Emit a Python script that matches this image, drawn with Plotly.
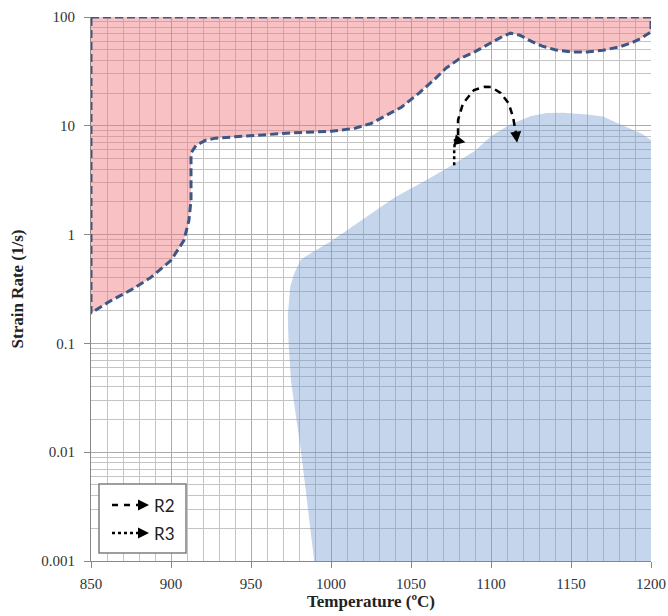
import math
import plotly.graph_objects as go

# ---------------- data ----------------
temp_ticks = [850, 900, 950, 1000, 1050, 1100, 1150, 1200]
temp_tick_labels = ["850", "900", "950", "1000", "1050", "1100", "1150", "1200"]
rate_ticks = [0.001, 0.01, 0.1, 1, 10, 100]
rate_tick_labels = ["0.001", "0.01", "0.1", "1", "10", "100"]

# lower boundary of the unstable (red) region, left to right
unstable_edge_T = [850, 862, 875, 887, 900, 908, 911.2, 912.5, 912.5, 915.6, 922, 928, 944,
                   960, 975, 1000, 1015, 1025, 1035, 1044, 1055, 1065, 1072, 1080, 1090,
                   1100, 1107, 1112, 1118, 1125, 1132, 1140, 1150, 1160, 1170, 1180, 1188,
                   1194, 1200]
unstable_edge_rate = [0.19, 0.245, 0.31, 0.40, 0.58, 0.88, 1.35, 2.07, 5.6, 6.6, 7.4, 7.7, 8.0,
                      8.3, 8.6, 8.9, 9.5, 10.5, 12.5, 14.8, 20, 27, 34, 41, 48,
                      58, 66, 71, 68, 60, 54, 50, 47.8, 47.6, 49.5, 53, 58,
                      64, 73]

# outline of the safe (blue) domain
safe_T = [989.5, 985, 981, 978, 975, 973.5, 973, 974.5, 977, 981, 984,
          1000, 1020, 1040, 1060, 1075, 1090, 1100, 1112, 1125, 1135, 1145,
          1160, 1170, 1181, 1194, 1200, 1200]
safe_rate = [0.001, 0.0035, 0.011, 0.022, 0.045, 0.1, 0.18, 0.33, 0.44, 0.58, 0.63,
             0.87, 1.38, 2.2, 3.2, 4.3, 5.9, 8.0, 10.3, 12.3, 13.1, 13.2,
             12.7, 12.2, 10.3, 8.5, 7.4, 0.001]

# processing routes
r2_T = [1079.4, 1079.4, 1082.5, 1089.4, 1096, 1100, 1106, 1111, 1113.8, 1115.6]
r2_rate = [8.2, 11.3, 16.1, 21.3, 22.8, 22.7, 20, 16.1, 12, 8.5]
r2_tip = (1116.3, 7.0)
r3_T = [1077, 1077, 1077.5, 1080.5]
r3_rate = [4.34, 5.95, 7.36, 7.25]
r3_tip = (1084.0, 7.06)

legend_names = ["R2", "R3"]

# ---------------- figure ----------------
fig = go.Figure()

fig.add_trace(go.Scatter(
    x=safe_T, y=safe_rate, mode="lines", fill="toself",
    fillcolor="rgba(110,150,205,0.40)", line=dict(width=0),
    hoverinfo="skip", showlegend=False))

red_T = [850, 1200] + unstable_edge_T[::-1] + [850]
red_rate = [100, 100] + unstable_edge_rate[::-1] + [100]
fig.add_trace(go.Scatter(
    x=red_T, y=red_rate, mode="lines", fill="toself",
    fillcolor="rgba(240,120,125,0.45)",
    line=dict(color="#3C5784", width=3, dash="8px,4px"),
    cliponaxis=False, hoverinfo="skip", showlegend=False))

fig.add_trace(go.Scatter(
    x=r2_T, y=r2_rate, mode="lines",
    line=dict(color="black", width=2.5, dash="7px,5px"),
    hoverinfo="skip", showlegend=False))
fig.add_trace(go.Scatter(
    x=r3_T, y=r3_rate, mode="lines",
    line=dict(color="black", width=2.5, dash="dot"),
    hoverinfo="skip", showlegend=False))

# arrow heads at the end of the routes
for tip, tail in [(r2_tip, (r2_T[-1], r2_rate[-1])), (r3_tip, (r3_T[-1], r3_rate[-1]))]:
    fig.add_annotation(
        x=tip[0], y=math.log10(tip[1]), ax=tail[0], ay=math.log10(tail[1]),
        xref="x", yref="y", axref="x", ayref="y", text="",
        showarrow=True, arrowhead=2, arrowsize=1.1, arrowwidth=2,
        arrowcolor="black", standoff=0)

# ---------------- custom legend (paper coords) ----------------
L, T0, PW, PH = 91, 17, 560, 544


def px(xp):
    return (xp - L) / PW


def py(yp):
    return (T0 + PH - yp) / PH


fig.add_shape(type="rect", xref="paper", yref="paper",
              x0=px(99), x1=px(186), y0=py(553), y1=py(484),
              fillcolor="white", line=dict(color="#7f7f7f", width=1.5), layer="above")
legend_rows = [505, 533]
legend_dashes = ["6px,6px", "dot"]
for name, yrow, dash in zip(legend_names, legend_rows, legend_dashes):
    fig.add_shape(type="line", xref="paper", yref="paper",
                  x0=px(112), x1=px(141), y0=py(yrow), y1=py(yrow),
                  line=dict(color="black", width=2.5, dash=dash), layer="above")
    fig.add_annotation(x=px(149), y=py(yrow), xref="paper", yref="paper",
                       ax=-9, ay=0, text="", showarrow=True, arrowhead=2,
                       arrowsize=1.1, arrowwidth=2, arrowcolor="black", standoff=0)
    fig.add_annotation(x=px(152), y=py(yrow), xref="paper", yref="paper",
                       text=name, showarrow=False, xanchor="left", yanchor="middle",
                       font=dict(family="Lato", size=17, color="#222222"))

minor_rate = [m * 10.0 ** e for e in range(-3, 2) for m in range(2, 10)]
minor_T = list(range(850, 1201, 10))

tickfont = dict(family="Liberation Serif", size=15, color="#333333")
titlefont = dict(family="Liberation Serif", size=17, color="#222222", weight="bold")

fig.update_layout(
    template="none",
    width=668, height=616,
    margin=dict(l=91, r=17, t=17, b=55, autoexpand=False),
    paper_bgcolor="white", plot_bgcolor="white",
    showlegend=False,
    xaxis=dict(
        range=[850, 1200], tickmode="array", tickvals=temp_ticks, ticktext=temp_tick_labels,
        showgrid=True, gridcolor="#ababab", gridwidth=1,
        minor=dict(tickmode="array", tickvals=minor_T, showgrid=True,
                   gridcolor="#c4c4c4", gridwidth=1, ticks=""),
        ticks="outside", ticklen=6, tickcolor="#888888", ticklabelstandoff=3,
        showline=True, linecolor="#888888", linewidth=1, zeroline=False,
        tickfont=tickfont,
        title=dict(text="Temperature (ºC)", font=titlefont, standoff=4)),
    yaxis=dict(
        type="log", range=[-3, 2], tickmode="array", tickvals=rate_ticks,
        ticktext=rate_tick_labels,
        showgrid=True, gridcolor="#ababab", gridwidth=1,
        minor=dict(tickmode="array", tickvals=minor_rate, showgrid=True,
                   gridcolor="#c4c4c4", gridwidth=1, ticks=""),
        ticks="outside", ticklen=6, tickcolor="#888888", ticklabelstandoff=6,
        showline=True, linecolor="#888888", linewidth=1, zeroline=False,
        tickfont=tickfont,
        title=dict(text="Strain Rate (1/s)", font=titlefont, standoff=13)),
)

fig.write_html("out.html")
